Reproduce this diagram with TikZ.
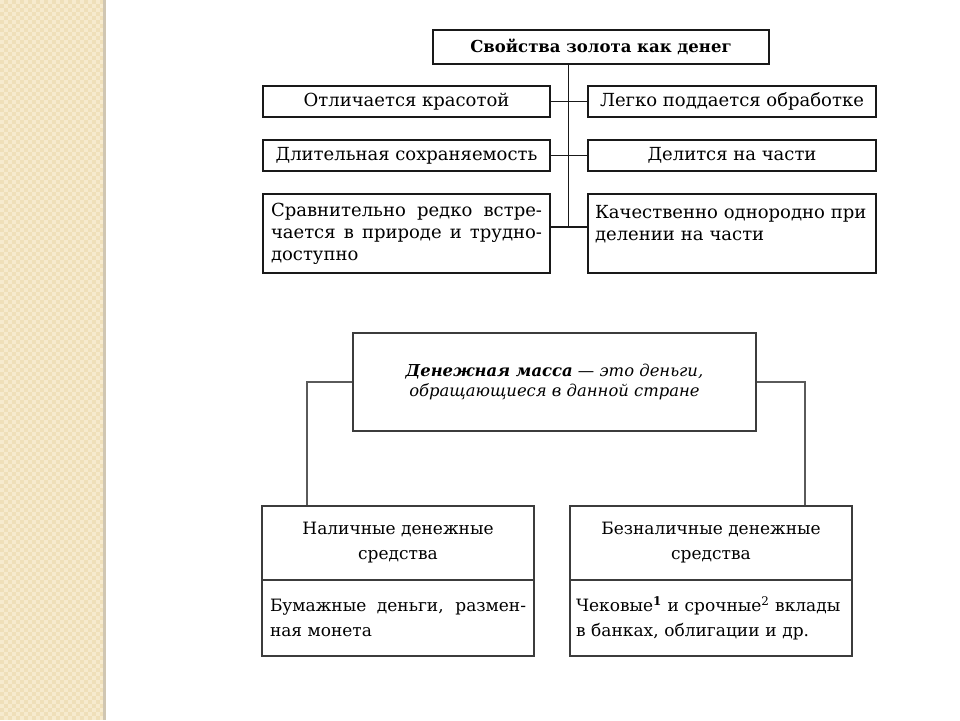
\documentclass[tikz,border=0pt]{standalone}
\usepackage{fontspec}
\setmainfont{DejaVu Serif}
\lefthyphenmin=62
\definecolor{stripe}{RGB}{239,223,185}
\definecolor{stripelight}{RGB}{246,234,206}
\definecolor{stripeedge}{RGB}{208,198,178}
\definecolor{boxline}{RGB}{25,25,25}
\definecolor{glinecol}{RGB}{90,90,90}
\begin{document}
\begin{tikzpicture}[x=1pt,y=-1pt,
  box/.style={draw=boxline, line width=1.9pt, inner sep=0pt, fill=white,
    font=\fontsize{18}{22}\selectfont},
  lowbox/.style={draw=boxline!85, line width=1.5pt, inner sep=0pt, fill=white,
    font=\fontsize{17}{25}\selectfont},
  bigbox/.style={draw=boxline!85, line width=1.4pt, inner sep=0pt, fill=white,
    font=\fontsize{16.4}{20.5}\selectfont\itshape},
  link/.style={draw=boxline, line width=1.9pt},
  glink/.style={draw=glinecol, line width=2.3pt},
]
\useasboundingbox (0,0) rectangle (960,720);
\fill[white] (0,0) rectangle (960,720);
\fill[stripe] (0,0) rectangle (103,720);
\foreach \i in {0,...,12}{
  \foreach \j in {0,...,89}{
    \fill[stripelight] (\i*8,\j*8) rectangle ++(4,4);
    \fill[stripelight] (\i*8+4,\j*8+4) rectangle ++(4,4);
  }
}
\fill[white] (103,0) rectangle (106,720);
\fill[stripeedge] (103,0) rectangle (106,720);

% top diagram
\node[box, minimum width=336pt, minimum height=34pt, font=\fontsize{16.5}{22}\selectfont\bfseries] (title) at (601,47) {Свойства золота как денег};
\node[box, minimum width=287pt, minimum height=31pt] (L1) at (406.5,101.5) {Отличается красотой};
\node[box, minimum width=288pt, minimum height=31pt] (R1) at (732,101.5) {Легко поддается обработке};
\node[box, minimum width=287pt, minimum height=31pt] (L2) at (406.5,155.5) {Длительная сохраняемость};
\node[box, minimum width=288pt, minimum height=31pt] (R2) at (732,155.5) {Делится на части};
\node[box, minimum width=287pt, minimum height=79pt, text width=271pt, align=justify] (L3) at (406.5,233.5)
  {Сравнительно редко встре-\linebreak чается в природе и трудно-\linebreak доступно};
\node[box, minimum width=288pt, minimum height=79pt, text width=274pt, align=left] (R3) at (732,233.5)
  {Качественно однородно при\\делении на части\\\mbox{}};

\coordinate (trtop) at ([xshift=-32.5pt]title.south);
\coordinate (r3l) at ([yshift=6.5pt]L3.east);
\coordinate (r3r) at ([yshift=6.5pt]R3.west);
\draw[link] (trtop) -- (trtop |- r3l);
\draw[link] (L1) -- (R1);
\draw[link] (L2) -- (R2);
\draw[link] (r3l) -- (r3r);

% bottom diagram
\node[bigbox, minimum width=403pt, minimum height=98pt, align=center] (big) at (554.5,382)
  {\textbf{Денежная масса} — это деньги,\\обращающиеся в данной стране};
\node[lowbox, minimum width=272pt, minimum height=74pt, align=center] (BLtop) at (398,543)
  {Наличные денежные\\средства};
\node[lowbox, minimum width=272pt, minimum height=76pt, text width=256pt, align=justify] (BLbot) at (398,618)
  {Бумажные деньги, размен-\linebreak ная монета};
\node[lowbox, minimum width=282pt, minimum height=74pt, align=center] (BRtop) at (711,543)
  {Безналичные денежные\\средства};
\node[lowbox, minimum width=282pt, minimum height=76pt, text width=270pt, align=left] (BRbot) at (711,618)
  {Чековые\textsuperscript{\textbf{1}} и срочные\textsuperscript{2} вклады\\в банках, облигации и др.};

\coordinate (bl) at ([xshift=46pt]BLtop.north west);
\coordinate (br) at ([xshift=-48pt]BRtop.north east);
\draw[glink] (big.west) -| (bl);
\draw[glink] (big.east) -| (br);
\end{tikzpicture}
\end{document}
